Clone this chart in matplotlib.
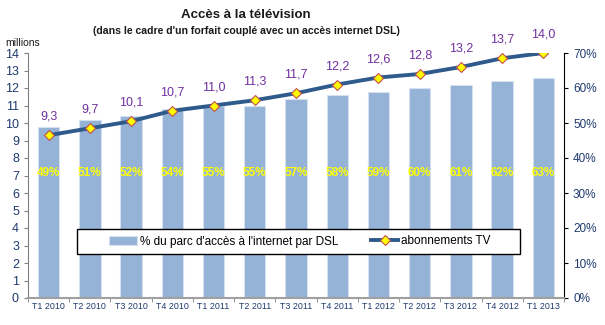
import matplotlib
matplotlib.use("Agg")
import matplotlib.pyplot as plt
import matplotlib.patches as mpatches
import numpy as np

plt.rcParams['font.family'] = ['Liberation Sans', 'DejaVu Sans']

# data
trimestres = ["T1 2010", "T2 2010", "T3 2010", "T4 2010", "T1 2011", "T2 2011", "T3 2011",
              "T4 2011", "T1 2012", "T2 2012", "T3 2012", "T4 2012", "T1 2013"]
part_dsl = [49, 51, 52, 54, 55, 55, 57, 58, 59, 60, 61, 62, 63]
abonnements_tv = [9.3, 9.7, 10.1, 10.7, 11.0, 11.3, 11.7, 12.2, 12.6, 12.8, 13.2, 13.7, 14.0]

bar_col = "#95B3D7"
line_col = "#2F5A8C"
tick_col = "#1F3A6E"
lab_col = "#7030A0"

fig = plt.figure(figsize=(6.05, 3.25), dpi=100)
ax = fig.add_axes([28/605, 1-298/325, 536/605, 245/325])
ax2 = ax.twinx()

x = np.arange(len(trimestres))
ax2.bar(x, part_dsl, width=0.52, color=bar_col, edgecolor="#D5E1F0", linewidth=0.8,
        zorder=1, label="% du parc d'accès à l'internet par DSL")
ax2.set_ylim(0, 70)
ax2.set_yticks(range(0, 71, 10))
ax2.set_yticklabels([f"{v}%" for v in range(0, 71, 10)], fontsize=8.5, color=tick_col)

for xi, p in zip(x, part_dsl):
    ax2.text(xi, 35.7, f"{p}%", ha="center", va="center", color="#FFFF00",
             fontsize=8.5, fontweight="bold")

ax.set_zorder(ax2.get_zorder() + 1)
ax.patch.set_visible(False)
ax.plot(x, abonnements_tv, color=line_col, lw=2.8, marker="D", markersize=5.5,
        markerfacecolor="#FFFF00", markeredgecolor="#C0504D", markeredgewidth=0.8,
        label="abonnements TV", zorder=4)
for xi, v in zip(x, abonnements_tv):
    ax.text(xi, v + 1.05, f"{v:.1f}".replace(".", ","), ha="center", va="center",
            color=lab_col, fontsize=9)

ax.set_ylim(0, 14)
ax.set_xlim(-0.5, len(x) - 0.5)
ax.set_yticks(range(0, 15))
ax.tick_params(axis="y", labelsize=9, labelcolor=tick_col, length=3, color="#808080")
ax.set_xticks(x)
ax.set_xticklabels(trimestres, fontsize=6.4, color=tick_col)
ax.set_xticks(np.arange(-0.5, len(x)), minor=True)
ax.tick_params(axis="x", which="major", length=0, pad=3)
ax.tick_params(axis="x", which="minor", length=3, color="#808080")
ax2.tick_params(axis="y", length=3, color="black")

for a in (ax, ax2):
    a.spines["top"].set_visible(False)
ax.spines["left"].set_color("#808080")
ax.spines["bottom"].set_color("#A0A0A0")
ax.spines["bottom"].set_linewidth(1.5)
ax.spines["right"].set_visible(False)
ax2.spines["left"].set_visible(False)
ax2.spines["bottom"].set_visible(False)
ax2.spines["right"].set_color("black")

# legend box
box = mpatches.Rectangle(((77-28)/536, (298-254)/245), (520-77)/536, 25/245,
                         transform=ax.transAxes, facecolor="white", edgecolor="black",
                         linewidth=1.0, zorder=5)
ax.add_patch(box)
h1, l1 = ax2.get_legend_handles_labels()
h2, l2 = ax.get_legend_handles_labels()
leg = ax.legend(h1 + h2, l1 + l2, loc="center", bbox_to_anchor=((300-28)/536, (298-241.5)/245),
                ncol=2, fontsize=8.5, frameon=False, columnspacing=2.8, handlelength=2.3,
                handletextpad=0.25)
leg.set_zorder(6)

fig.text(246/605, 1-15/325, "Accès à la télévision", ha="center", va="center",
         fontsize=9.5, fontweight="bold", color="#1A1A1A")
fig.text(246/605, 1-31/325, "(dans le cadre d'un forfait couplé avec un accès internet DSL)",
         ha="center", va="center", fontsize=7.6, fontweight="bold", color="#1A1A1A")
fig.text(5/605, 1-43/325, "millions", ha="left", va="center", fontsize=7.5, color="#1A1A1A")

fig.savefig("out.png", dpi=100)
